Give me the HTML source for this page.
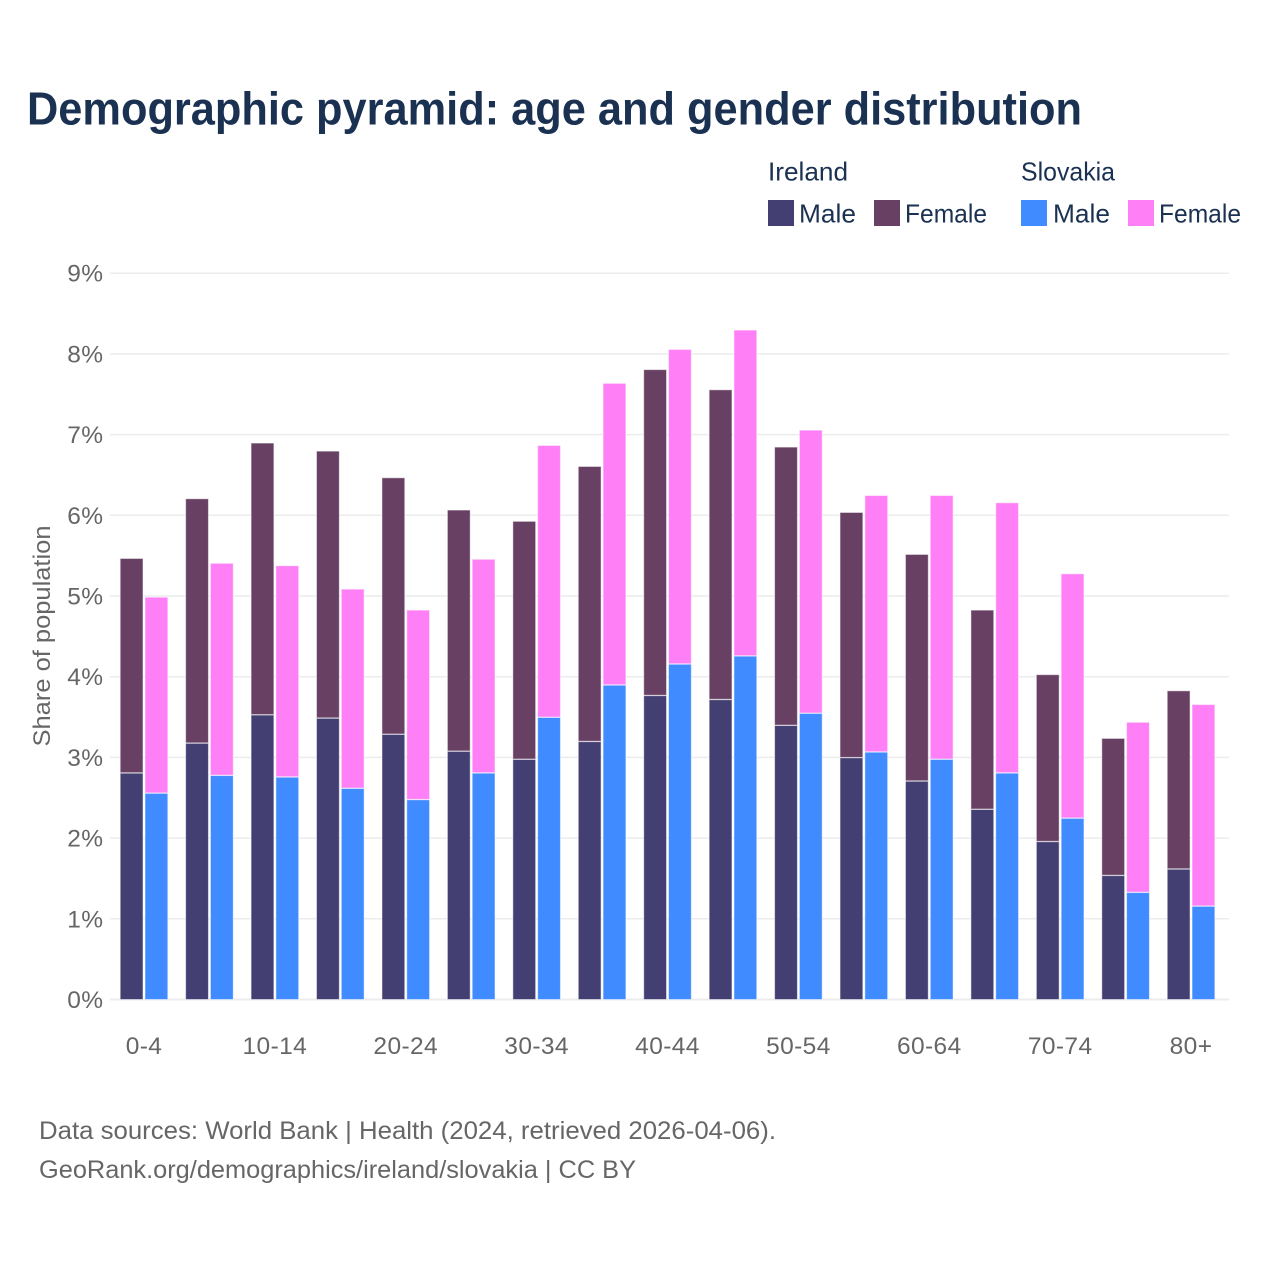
<!DOCTYPE html>
<html lang="en">
<head>
<meta charset="utf-8">
<title>Demographic pyramid: age and gender distribution</title>
<style>
html,body{margin:0;padding:0;background:#fff;}
svg{display:block;font-family:"Liberation Sans",sans-serif;}
.tick{font-size:24.5px;fill:#666;letter-spacing:.4px;}
.leg{font-size:26px;fill:#1a3152;}
.foot{font-size:25px;fill:#666;}
</style>
</head>
<body>
<svg id="chart" xmlns="http://www.w3.org/2000/svg" width="1280" height="1280" viewBox="0 0 1280 1280">
<rect x="0" y="0" width="1280" height="1280" fill="#fff"/>
<text x="27" y="124.5" font-size="46" font-weight="700" fill="#1a3152" textLength="1055" lengthAdjust="spacingAndGlyphs">Demographic pyramid: age and gender distribution</text>

<g>
<text class="leg" x="768" y="180.5" textLength="80" lengthAdjust="spacingAndGlyphs">Ireland</text>
<text class="leg" x="1021" y="180.5" textLength="94" lengthAdjust="spacingAndGlyphs">Slovakia</text>
<rect x="768" y="200" width="26" height="26" fill="#433f72"/>
<text class="leg" x="799" y="222.5" textLength="57" lengthAdjust="spacingAndGlyphs">Male</text>
<rect x="874" y="200" width="26" height="26" fill="#674063"/>
<text class="leg" x="905" y="222.5" textLength="82" lengthAdjust="spacingAndGlyphs">Female</text>
<rect x="1021" y="200" width="26" height="26" fill="#3f8bff"/>
<text class="leg" x="1053" y="222.5" textLength="57" lengthAdjust="spacingAndGlyphs">Male</text>
<rect x="1128" y="200" width="26" height="26" fill="#ff80f6"/>
<text class="leg" x="1159" y="222.5" textLength="82" lengthAdjust="spacingAndGlyphs">Female</text>
</g>

<g id="grid"></g>
<g id="yticks"></g>
<g id="bars"></g>
<g id="xticks"></g>

<text transform="translate(50,636) rotate(-90)" text-anchor="middle" font-size="24" fill="#666" textLength="221" lengthAdjust="spacingAndGlyphs">Share of population</text>

<text class="foot" x="39" y="1139" textLength="737" lengthAdjust="spacingAndGlyphs">Data sources: World Bank | Health (2024, retrieved 2026-04-06).</text>
<text class="foot" x="39" y="1178" textLength="597" lengthAdjust="spacingAndGlyphs">GeoRank.org/demographics/ireland/slovakia | CC BY</text>
</svg>

<script>
const categories = ["0-4","5-9","10-14","15-19","20-24","25-29","30-34","35-39","40-44","45-49","50-54","55-59","60-64","65-69","70-74","75-79","80+"];
const xTickLabels = ["0-4","10-14","20-24","30-34","40-44","50-54","60-64","70-74","80+"];
const yTickValues = [0,1,2,3,4,5,6,7,8,9];
const irelandMale = [2.81,3.18,3.53,3.49,3.29,3.08,2.98,3.20,3.77,3.72,3.40,3.00,2.71,2.36,1.96,1.54,1.62];
const irelandFemale = [2.66,3.03,3.37,3.31,3.18,2.99,2.95,3.41,4.04,3.84,3.45,3.04,2.81,2.47,2.07,1.70,2.21];
const slovakiaMale = [2.56,2.78,2.76,2.62,2.48,2.81,3.50,3.90,4.16,4.26,3.55,3.07,2.98,2.81,2.25,1.33,1.16];
const slovakiaFemale = [2.43,2.63,2.62,2.47,2.35,2.65,3.37,3.74,3.90,4.04,3.51,3.18,3.27,3.35,3.03,2.11,2.50];

const SVG_NS = "http://www.w3.org/2000/svg";
const plotLeft = 110, plotRight = 1229;
const y0 = 999.5, pxPerUnit = 80.7;
const firstCenter = 144, groupStep = 65.44;
const barWidth = 22.8, barGap = 2;
const barInset = 0.4;

function yScale(v) { return y0 - v * pxPerUnit; }
function xCenter(i) { return firstCenter + i * groupStep; }

function make(tag, attrs, parent) {
  const el = document.createElementNS(SVG_NS, tag);
  for (const k in attrs) el.setAttribute(k, attrs[k]);
  parent.appendChild(el);
  return el;
}

const grid = document.getElementById("grid");
const yticks = document.getElementById("yticks");
yTickValues.forEach(function (v) {
  const line = make("line", {x1: plotLeft, x2: plotRight, y1: yScale(v), y2: yScale(v), stroke: "#ececec", "stroke-width": v === 0 ? 2 : 1.5}, grid);
  
  
  const t = make("text", {class: "tick", x: 103.5, y: yScale(v) + 8.5, "text-anchor": "end"}, yticks);
  
  
  t.textContent = v + "%";
});

const bars = document.getElementById("bars");
function drawBar(x, base, value, fill) {
  const top = yScale(base + value) + barInset;
  const r = make("rect", {x: x, y: top, width: barWidth, height: yScale(base) - top, fill: fill, stroke: "#fff", "stroke-opacity": 0.5, "stroke-width": 1}, bars);
  return r;
}
categories.forEach(function (c, i) {
  const cx = xCenter(i);
  const xa = cx - barGap / 2 - barWidth;
  const xb = cx + barGap / 2;
  const a = drawBar(xa, 0, irelandMale[i], "#433f72");
  
  
  const b = drawBar(xa, irelandMale[i], irelandFemale[i], "#674063");
  
  
  const d = drawBar(xb, 0, slovakiaMale[i], "#3f8bff");
  
  
  const e = drawBar(xb, slovakiaMale[i], slovakiaFemale[i], "#ff80f6");
  
  
});

const xticks = document.getElementById("xticks");
xTickLabels.forEach(function (label) {
  const t = make("text", {class: "tick", x: xCenter(categories.indexOf(label)), y: 1054, "text-anchor": "middle"}, xticks);
  
  
  t.textContent = label;
});
</script>
</body>
</html>
